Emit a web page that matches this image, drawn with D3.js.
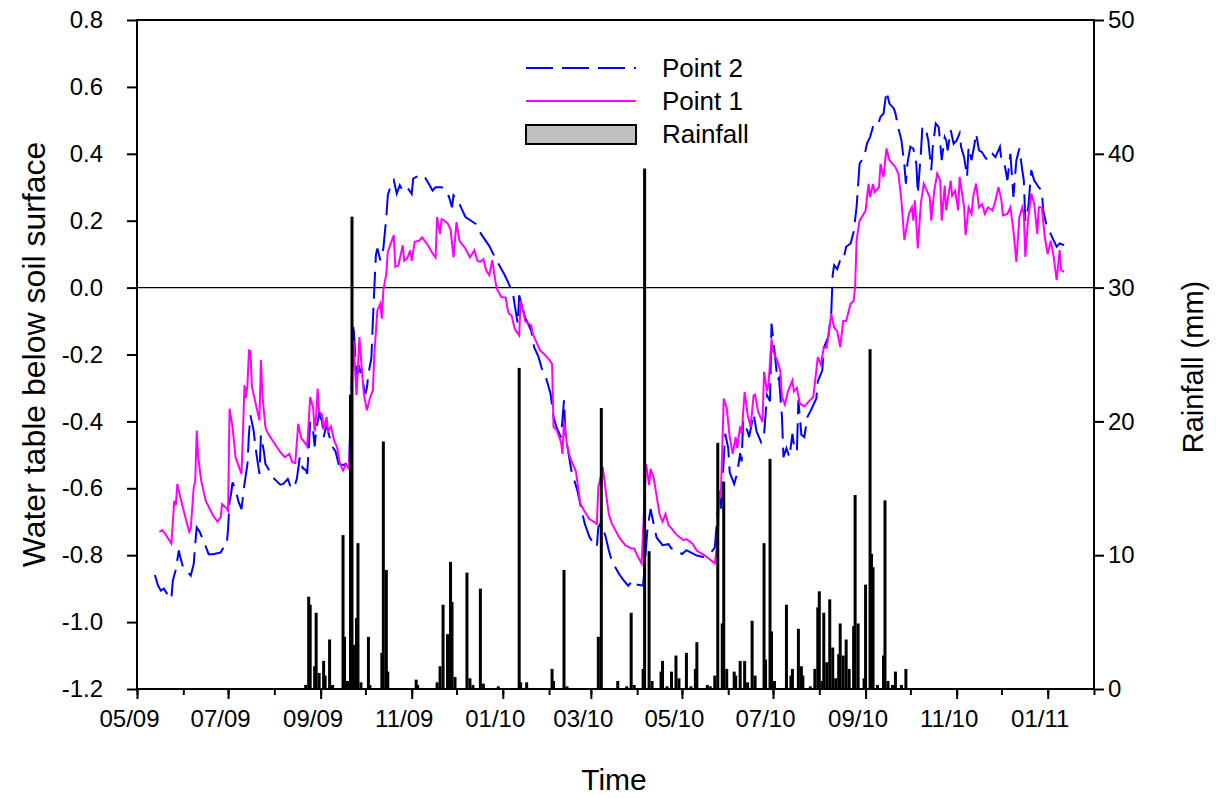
<!DOCTYPE html>
<html>
<head>
<meta charset="utf-8">
<script src="https://cdn.jsdelivr.net/npm/d3@7"></script>
<style>
  body { margin: 0; background: #fff; }
  svg { font-family: "Liberation Sans", Arial, sans-serif; }
</style>
</head>
<body>
<svg id="chart" width="1218" height="798"></svg>
<script>
// water table depth (m), Point 1 (solid magenta)
const point1 = [
  ["2009-05-16",-0.73],["2009-05-18",-0.725],["2009-05-20",-0.737],["2009-05-24",-0.765],["2009-05-26",-0.637],
  ["2009-05-27",-0.65],["2009-05-28",-0.587],["2009-05-30",-0.627],["2009-06-03",-0.697],["2009-06-05",-0.73],
  ["2009-06-06",-0.72],["2009-06-08",-0.597],["2009-06-09",-0.58],["2009-06-10",-0.427],["2009-06-11",-0.507],
  ["2009-06-13",-0.577],["2009-06-16",-0.637],["2009-06-21",-0.682],["2009-06-24",-0.70],["2009-06-26",-0.687],
  ["2009-06-27",-0.647],["2009-06-30",-0.66],["2009-07-01",-0.667],["2009-07-02",-0.362],["2009-07-04",-0.417],
  ["2009-07-06",-0.507],["2009-07-10",-0.557],["2009-07-11",-0.427],["2009-07-12",-0.292],["2009-07-13",-0.33],
  ["2009-07-14",-0.29],["2009-07-15",-0.188],["2009-07-16",-0.19],["2009-07-17",-0.297],["2009-07-20",-0.357],
  ["2009-07-22",-0.397],["2009-07-23",-0.216],["2009-07-24",-0.32],["2009-07-26",-0.417],["2009-07-27",-0.43],
  ["2009-07-30",-0.452],["2009-08-02",-0.472],["2009-08-05",-0.492],["2009-08-08",-0.507],["2009-08-11",-0.497],
  ["2009-08-13",-0.522],["2009-08-15",-0.525],["2009-08-17",-0.407],["2009-08-19",-0.45],["2009-08-22",-0.467],
  ["2009-08-23",-0.475],["2009-08-25",-0.327],["2009-08-27",-0.36],["2009-08-28",-0.43],["2009-08-29",-0.385],
  ["2009-08-30",-0.302],["2009-08-31",-0.37],["2009-09-02",-0.38],["2009-09-03",-0.425],["2009-09-05",-0.387],
  ["2009-09-06",-0.43],["2009-09-08",-0.415],["2009-09-10",-0.457],["2009-09-12",-0.477],["2009-09-14",-0.527],
  ["2009-09-16",-0.547],["2009-09-18",-0.527],["2009-09-20",-0.542],["2009-09-23",-0.158],["2009-09-25",-0.322],
  ["2009-09-27",-0.148],["2009-09-29",-0.268],["2009-09-30",-0.32],["2009-10-02",-0.367],["2009-10-04",-0.33],
  ["2009-10-06",-0.307],["2009-10-07",-0.198],["2009-10-09",-0.068],["2009-10-11",-0.048],["2009-10-12",-0.093],
  ["2009-10-13",-0.008],["2009-10-15",0.042],["2009-10-16",0.107],["2009-10-20",0.157],["2009-10-21",0.062],
  ["2009-10-23",0.065],["2009-10-26",0.127],["2009-10-27",0.08],["2009-10-29",0.087],["2009-10-31",0.112],
  ["2009-11-01",0.08],["2009-11-03",0.137],["2009-11-06",0.14],["2009-11-08",0.15],["2009-11-12",0.125],
  ["2009-11-15",0.102],["2009-11-17",0.09],["2009-11-18",0.211],["2009-11-20",0.16],["2009-11-21",0.205],
  ["2009-11-23",0.20],["2009-11-25",0.192],["2009-11-27",0.175],["2009-11-29",0.09],["2009-12-01",0.196],
  ["2009-12-03",0.14],["2009-12-05",0.128],["2009-12-07",0.117],["2009-12-10",0.09],["2009-12-13",0.112],
  ["2009-12-15",0.08],["2009-12-17",0.077],["2009-12-19",0.085],["2009-12-21",0.05],["2009-12-23",0.037],
  ["2009-12-25",0.082],["2009-12-27",0.02],["2009-12-28",-0.003],["2009-12-31",-0.028],["2010-01-03",-0.03],
  ["2010-01-04",-0.058],["2010-01-05",-0.077],["2010-01-07",-0.085],["2010-01-09",-0.123],["2010-01-12",-0.143],
  ["2010-01-13",-0.038],["2010-01-14",-0.055],["2010-01-16",-0.10],["2010-01-20",-0.113],["2010-01-21",-0.137],
  ["2010-01-23",-0.158],["2010-01-26",-0.188],["2010-01-29",-0.20],["2010-02-01",-0.215],["2010-02-03",-0.228],
  ["2010-02-04",-0.417],["2010-02-06",-0.425],["2010-02-09",-0.462],["2010-02-10",-0.497],["2010-02-11",-0.397],
  ["2010-02-13",-0.47],["2010-02-15",-0.507],["2010-02-19",-0.55],["2010-02-22",-0.647],["2010-02-25",-0.67],
  ["2010-02-28",-0.692],["2010-03-03",-0.70],["2010-03-05",-0.707],["2010-03-06",-0.597],["2010-03-09",-0.537],
  ["2010-03-11",-0.61],["2010-03-13",-0.677],["2010-03-15",-0.705],["2010-03-20",-0.747],["2010-03-24",-0.77],
  ["2010-03-28",-0.78],["2010-03-30",-0.78],["2010-04-01",-0.80],["2010-04-04",-0.825],["2010-04-07",-0.527],
  ["2010-04-09",-0.59],["2010-04-10",-0.542],["2010-04-12",-0.567],["2010-04-16",-0.677],["2010-04-18",-0.70],
  ["2010-04-20",-0.677],["2010-04-22",-0.71],["2010-04-24",-0.72],["2010-04-27",-0.737],["2010-04-29",-0.745],
  ["2010-05-02",-0.755],["2010-05-04",-0.752],["2010-05-08",-0.765],["2010-05-11",-0.787],["2010-05-16",-0.80],
  ["2010-05-19",-0.81],["2010-05-23",-0.825],["2010-05-25",-0.75],["2010-05-26",-0.607],["2010-05-27",-0.63],
  ["2010-05-29",-0.332],["2010-05-31",-0.36],["2010-06-02",-0.447],["2010-06-04",-0.497],["2010-06-06",-0.447],
  ["2010-06-07",-0.48],["2010-06-09",-0.415],["2010-06-10",-0.437],["2010-06-12",-0.312],["2010-06-14",-0.38],
  ["2010-06-16",-0.417],["2010-06-18",-0.322],["2010-06-19",-0.32],["2010-06-21",-0.37],["2010-06-24",-0.402],
  ["2010-06-25",-0.252],["2010-06-27",-0.31],["2010-06-28",-0.29],["2010-06-30",-0.153],["2010-07-01",-0.19],
  ["2010-07-04",-0.22],["2010-07-06",-0.252],["2010-07-07",-0.327],["2010-07-09",-0.35],["2010-07-11",-0.31],
  ["2010-07-14",-0.277],["2010-07-15",-0.31],["2010-07-17",-0.30],["2010-07-19",-0.347],["2010-07-22",-0.355],
  ["2010-07-25",-0.34],["2010-07-28",-0.327],["2010-07-31",-0.208],["2010-08-02",-0.23],["2010-08-04",-0.18],
  ["2010-08-06",-0.18],["2010-08-09",-0.078],["2010-08-11",-0.12],["2010-08-13",-0.13],["2010-08-15",-0.178],
  ["2010-08-17",-0.10],["2010-08-19",-0.10],["2010-08-22",-0.048],["2010-08-24",-0.04],["2010-08-25",0.002],
  ["2010-08-26",0.142],["2010-08-28",0.20],["2010-09-01",0.23],["2010-09-03",0.31],["2010-09-04",0.27],
  ["2010-09-06",0.31],["2010-09-07",0.285],["2010-09-10",0.30],["2010-09-11",0.37],["2010-09-13",0.33],
  ["2010-09-15",0.416],["2010-09-17",0.381],["2010-09-21",0.36],["2010-09-23",0.34],["2010-09-25",0.261],
  ["2010-09-27",0.142],["2010-09-30",0.22],["2010-10-02",0.24],["2010-10-03",0.20],["2010-10-04",0.261],
  ["2010-10-06",0.117],["2010-10-08",0.25],["2010-10-10",0.311],["2010-10-12",0.29],["2010-10-14",0.27],
  ["2010-10-15",0.20],["2010-10-17",0.29],["2010-10-19",0.341],["2010-10-21",0.32],["2010-10-22",0.20],
  ["2010-10-24",0.305],["2010-10-25",0.231],["2010-10-28",0.32],["2010-10-29",0.275],["2010-10-31",0.29],
  ["2010-11-02",0.231],["2010-11-03",0.331],["2010-11-06",0.24],["2010-11-07",0.157],["2010-11-09",0.24],
  ["2010-11-11",0.22],["2010-11-12",0.27],["2010-11-14",0.311],["2010-11-16",0.24],["2010-11-18",0.25],
  ["2010-11-20",0.22],["2010-11-22",0.24],["2010-11-25",0.23],["2010-11-27",0.26],["2010-11-29",0.301],
  ["2010-12-01",0.26],["2010-12-02",0.216],["2010-12-05",0.22],["2010-12-07",0.24],["2010-12-09",0.172],
  ["2010-12-11",0.077],["2010-12-13",0.21],["2010-12-15",0.24],["2010-12-16",0.22],["2010-12-17",0.092],
  ["2010-12-19",0.21],["2010-12-21",0.281],["2010-12-23",0.25],["2010-12-25",0.16],["2010-12-26",0.24],
  ["2010-12-28",0.24],["2010-12-30",0.152],["2011-01-01",0.10],["2011-01-03",0.14],["2011-01-05",0.092],
  ["2011-01-07",0.022],["2011-01-09",0.112],["2011-01-10",0.052],["2011-01-12",0.047]
];

// Point 2 (dashed blue)
const point2 = [
  ["2009-05-13",-0.859],["2009-05-15",-0.89],["2009-05-17",-0.906],["2009-05-19",-0.90],["2009-05-22",-0.921],
  ["2009-05-24",-0.931],["2009-05-25",-0.876],["2009-05-27",-0.843],["2009-05-29",-0.786],["2009-05-30",-0.806],
  ["2009-06-01",-0.838],["2009-06-04",-0.851],["2009-06-06",-0.861],["2009-06-08",-0.826],["2009-06-09",-0.767],
  ["2009-06-10",-0.717],["2009-06-12",-0.73],["2009-06-15",-0.762],["2009-06-18",-0.797],["2009-06-21",-0.797],
  ["2009-06-26",-0.792],["2009-06-28",-0.776],["2009-06-30",-0.772],["2009-07-01",-0.722],["2009-07-02",-0.64],
  ["2009-07-03",-0.617],["2009-07-04",-0.582],["2009-07-06",-0.605],["2009-07-08",-0.64],["2009-07-10",-0.662],
  ["2009-07-12",-0.587],["2009-07-14",-0.527],["2009-07-15",-0.437],["2009-07-16",-0.382],["2009-07-18",-0.424],
  ["2009-07-20",-0.497],["2009-07-22",-0.557],["2009-07-23",-0.442],["2009-07-25",-0.49],["2009-07-26",-0.527],
  ["2009-07-30",-0.557],["2009-08-01",-0.572],["2009-08-05",-0.589],["2009-08-07",-0.587],["2009-08-10",-0.572],
  ["2009-08-12",-0.597],["2009-08-14",-0.60],["2009-08-16",-0.573],["2009-08-17",-0.542],["2009-08-18",-0.507],
  ["2009-08-20",-0.54],["2009-08-22",-0.545],["2009-08-23",-0.557],["2009-08-24",-0.482],["2009-08-25",-0.402],
  ["2009-08-27",-0.43],["2009-08-28",-0.475],["2009-08-29",-0.427],["2009-08-31",-0.377],["2009-09-02",-0.40],
  ["2009-09-03",-0.447],["2009-09-05",-0.41],["2009-09-07",-0.447],["2009-09-09",-0.477],["2009-09-11",-0.49],
  ["2009-09-13",-0.527],["2009-09-16",-0.53],["2009-09-18",-0.527],["2009-09-20",-0.537],["2009-09-23",-0.108],
  ["2009-09-25",-0.268],["2009-09-27",-0.24],["2009-09-28",-0.258],["2009-10-01",-0.318],["2009-10-02",-0.30],
  ["2009-10-03",-0.258],["2009-10-05",-0.21],["2009-10-06",-0.098],["2009-10-07",0.002],["2009-10-08",0.097],
  ["2009-10-09",0.117],["2009-10-11",0.082],["2009-10-13",0.117],["2009-10-15",0.211],["2009-10-16",0.276],
  ["2009-10-18",0.306],["2009-10-20",0.321],["2009-10-22",0.281],["2009-10-24",0.306],["2009-10-26",0.29],
  ["2009-10-29",0.30],["2009-11-01",0.28],["2009-11-02",0.326],["2009-11-04",0.331],["2009-11-09",0.336],
  ["2009-11-13",0.306],["2009-11-15",0.29],["2009-11-17",0.30],["2009-11-19",0.30],["2009-11-21",0.30],
  ["2009-11-24",0.29],["2009-11-26",0.271],["2009-11-28",0.24],["2009-11-29",0.276],["2009-12-02",0.26],
  ["2009-12-04",0.24],["2009-12-07",0.211],["2009-12-12",0.196],["2009-12-14",0.19],["2009-12-16",0.17],
  ["2009-12-19",0.15],["2009-12-23",0.124],["2009-12-26",0.097],["2009-12-29",0.072],["2010-01-02",0.04],
  ["2010-01-05",0.012],["2010-01-08",-0.023],["2010-01-11",-0.108],["2010-01-12",-0.023],["2010-01-14",-0.055],
  ["2010-01-16",-0.09],["2010-01-20",-0.128],["2010-01-22",-0.178],["2010-01-25",-0.208],["2010-01-27",-0.24],
  ["2010-01-30",-0.27],["2010-02-02",-0.317],["2010-02-04",-0.388],["2010-02-06",-0.417],["2010-02-09",-0.448],
  ["2010-02-11",-0.337],["2010-02-12",-0.44],["2010-02-14",-0.495],["2010-02-16",-0.548],["2010-02-20",-0.607],
  ["2010-02-23",-0.67],["2010-02-25",-0.707],["2010-02-28",-0.745],["2010-03-03",-0.767],["2010-03-05",-0.775],
  ["2010-03-06",-0.717],["2010-03-08",-0.70],["2010-03-11",-0.747],["2010-03-13",-0.785],["2010-03-15",-0.817],
  ["2010-03-20",-0.857],["2010-03-23",-0.875],["2010-03-26",-0.891],["2010-03-29",-0.876],["2010-03-30",-0.886],
  ["2010-04-05",-0.891],["2010-04-08",-0.717],["2010-04-10",-0.662],["2010-04-12",-0.705],["2010-04-14",-0.747],
  ["2010-04-18",-0.77],["2010-04-22",-0.767],["2010-04-24",-0.78],["2010-04-28",-0.785],["2010-05-01",-0.797],
  ["2010-05-04",-0.785],["2010-05-11",-0.801],["2010-05-15",-0.805],["2010-05-18",-0.80],["2010-05-21",-0.789],
  ["2010-05-23",-0.777],["2010-05-25",-0.668],["2010-05-26",-0.627],["2010-05-27",-0.668],["2010-05-30",-0.437],
  ["2010-06-01",-0.48],["2010-06-02",-0.552],["2010-06-05",-0.587],["2010-06-07",-0.555],["2010-06-09",-0.495],
  ["2010-06-10",-0.52],["2010-06-11",-0.397],["2010-06-14",-0.43],["2010-06-15",-0.447],["2010-06-18",-0.377],
  ["2010-06-20",-0.43],["2010-06-23",-0.462],["2010-06-25",-0.44],["2010-06-27",-0.322],["2010-06-29",-0.34],
  ["2010-06-30",-0.108],["2010-07-02",-0.19],["2010-07-04",-0.277],["2010-07-05",-0.27],["2010-07-07",-0.387],
  ["2010-07-08",-0.507],["2010-07-10",-0.48],["2010-07-12",-0.507],["2010-07-14",-0.437],["2010-07-15",-0.47],
  ["2010-07-17",-0.49],["2010-07-18",-0.337],["2010-07-20",-0.44],["2010-07-22",-0.447],["2010-07-24",-0.387],
  ["2010-07-26",-0.37],["2010-07-30",-0.332],["2010-07-31",-0.28],["2010-08-03",-0.248],["2010-08-04",-0.18],
  ["2010-08-07",-0.148],["2010-08-09",-0.078],["2010-08-10",0.04],["2010-08-11",0.067],["2010-08-13",0.055],
  ["2010-08-15",0.082],["2010-08-17",0.08],["2010-08-19",0.122],["2010-08-22",0.132],["2010-08-24",0.167],
  ["2010-08-26",0.241],["2010-08-28",0.371],["2010-08-31",0.39],["2010-09-02",0.431],["2010-09-04",0.45],
  ["2010-09-06",0.481],["2010-09-09",0.481],["2010-09-11",0.511],["2010-09-13",0.52],["2010-09-15",0.586],
  ["2010-09-17",0.55],["2010-09-20",0.535],["2010-09-21",0.521],["2010-09-23",0.476],["2010-09-25",0.441],
  ["2010-09-27",0.366],["2010-09-28",0.311],["2010-09-29",0.37],["2010-10-01",0.421],["2010-10-03",0.415],
  ["2010-10-05",0.37],["2010-10-06",0.281],["2010-10-08",0.40],["2010-10-09",0.476],["2010-10-11",0.481],
  ["2010-10-13",0.44],["2010-10-15",0.351],["2010-10-16",0.42],["2010-10-18",0.491],["2010-10-20",0.48],
  ["2010-10-22",0.381],["2010-10-24",0.45],["2010-10-25",0.44],["2010-10-26",0.41],["2010-10-28",0.471],
  ["2010-10-30",0.43],["2010-11-01",0.44],["2010-11-03",0.461],["2010-11-04",0.42],["2010-11-06",0.39],
  ["2010-11-08",0.331],["2010-11-09",0.42],["2010-11-11",0.381],["2010-11-13",0.43],["2010-11-14",0.461],
  ["2010-11-16",0.41],["2010-11-18",0.405],["2010-11-20",0.39],["2010-11-22",0.38],["2010-11-25",0.40],
  ["2010-11-27",0.39],["2010-11-30",0.421],["2010-12-01",0.38],["2010-12-03",0.37],["2010-12-05",0.321],
  ["2010-12-07",0.40],["2010-12-09",0.271],["2010-12-11",0.38],["2010-12-13",0.416],["2010-12-15",0.35],
  ["2010-12-16",0.32],["2010-12-17",0.20],["2010-12-19",0.24],["2010-12-21",0.351],["2010-12-23",0.32],
  ["2010-12-26",0.30],["2010-12-28",0.29],["2010-12-29",0.231],["2010-12-31",0.19],["2011-01-02",0.171],
  ["2011-01-04",0.15],["2011-01-07",0.122],["2011-01-09",0.132],["2011-01-12",0.127]
];

// daily rainfall (mm)
const rainfall = [
  ["2009-08-22",0.3],["2009-08-24",6.9],["2009-08-25",6.3],["2009-08-28",1.7],["2009-08-29",5.7],
  ["2009-08-31",1.2],["2009-09-03",2.1],["2009-09-04",1.0],["2009-09-07",3.7],["2009-09-09",0.3],
  ["2009-09-16",11.5],["2009-09-17",3.9],["2009-09-19",0.6],["2009-09-21",22],["2009-09-22",35.3],
  ["2009-09-23",3.3],["2009-09-25",5.3],["2009-09-26",10.9],["2009-09-28",0.5],["2009-10-03",3.9],
  ["2009-10-04",0.3],["2009-10-12",2.7],["2009-10-13",18.5],["2009-10-15",8.9],["2009-10-16",1.3],
  ["2009-11-04",0.7],["2009-11-05",0.3],["2009-11-18",0.5],["2009-11-20",1.7],["2009-11-22",6.3],
  ["2009-11-25",4.1],["2009-11-27",9.5],["2009-11-28",6.5],["2009-11-30",0.9],["2009-12-08",8.7],
  ["2009-12-10",0.8],["2009-12-12",0.3],["2009-12-17",7.5],["2009-12-19",0.4],["2009-12-29",0.2],
  ["2010-01-12",24],["2010-01-13",0.5],["2010-01-17",0.5],["2010-02-03",1.5],["2010-02-04",0.6],
  ["2010-02-11",8.9],["2010-02-13",0.2],["2010-03-06",3.9],["2010-03-08",21],["2010-03-19",0.6],
  ["2010-03-25",0.2],["2010-03-28",5.7],["2010-03-30",0.3],["2010-04-05",1.5],["2010-04-06",38.9],
  ["2010-04-09",10.3],["2010-04-11",0.6],["2010-04-17",1.3],["2010-04-18",2.1],["2010-04-21",0.2],
  ["2010-04-24",1.3],["2010-04-27",2.5],["2010-04-29",0.8],["2010-05-04",2.7],["2010-05-07",0.2],
  ["2010-05-10",1.5],["2010-05-11",3.5],["2010-05-18",0.3],["2010-05-20",0.2],["2010-05-23",1.0],
  ["2010-05-25",18.4],["2010-05-28",4.9],["2010-05-29",15.5],["2010-05-31",1.5],["2010-06-05",1.3],
  ["2010-06-06",1.0],["2010-06-09",2.1],["2010-06-12",2.1],["2010-06-14",0.5],["2010-06-17",5.1],
  ["2010-06-19",1.0],["2010-06-25",10.9],["2010-06-26",2.2],["2010-06-29",17.2],["2010-06-30",4.3],
  ["2010-07-02",0.6],["2010-07-10",6.3],["2010-07-13",1.0],["2010-07-14",1.5],["2010-07-18",4.5],
  ["2010-07-20",1.7],["2010-07-21",1.0],["2010-07-26",0.2],["2010-07-29",1.5],["2010-07-31",6.1],
  ["2010-08-01",7.3],["2010-08-03",0.6],["2010-08-04",5.7],["2010-08-06",2.0],["2010-08-08",6.7],
  ["2010-08-10",3.1],["2010-08-12",0.8],["2010-08-14",2.6],["2010-08-15",4.9],["2010-08-17",2.5],
  ["2010-08-19",3.7],["2010-08-21",1.5],["2010-08-24",4.7],["2010-08-25",14.5],["2010-08-27",4.9],
  ["2010-08-31",0.8],["2010-09-01",7.8],["2010-09-04",25.4],["2010-09-05",10.1],["2010-09-06",9.1],
  ["2010-09-09",0.3],["2010-09-13",2.5],["2010-09-14",14.1],["2010-09-16",0.6],["2010-09-19",0.3],
  ["2010-09-21",1.3],["2010-09-25",0.3],["2010-09-28",1.5]
];

const depthTicks = [-1.2, -1.0, -0.8, -0.6, -0.4, -0.2, 0.0, 0.2, 0.4, 0.6, 0.8];
const rainTicks = [0, 10, 20, 30, 40, 50];
const legendItems = ["Point 2", "Point 1", "Rainfall"];

const parseDate = d3.timeParse("%Y-%m-%d");
const margin = { top: 20, right: 124, bottom: 109, left: 137 };
const width = 1218 - margin.left - margin.right;
const height = 798 - margin.top - margin.bottom;

const svg = d3.select("#chart");
const g = svg.append("g").attr("transform", `translate(${margin.left},${margin.top})`);

const x = d3.scaleTime()
    .domain([new Date(2009, 4, 1), new Date(2011, 1, 1)])
    .range([0, width]);
const yLeft = d3.scaleLinear().domain([-1.2, 0.8]).range([height, 0]);
const yRight = d3.scaleLinear().domain([0, 50]).range([height, 0]);

const toRows = arr => arr.map(d => ({ date: parseDate(d[0]), value: d[1] }));
const p1 = toRows(point1);
const p2 = toRows(point2);
const rain = toRows(rainfall);

// zero line
g.append("line")
    .attr("x1", 0).attr("x2", width)
    .attr("y1", yLeft(0)).attr("y2", yLeft(0))
    .attr("stroke", "#000").attr("stroke-width", 1.2);

const line = d3.line()
    .x(d => x(d.date))
    .y(d => yLeft(d.value));

g.append("path")
    .datum(p2)
    .attr("fill", "none")
    .attr("stroke", "#0000ff")
    .attr("stroke-width", 2)
    .attr("stroke-dasharray", "27,9")
    .attr("d", line);

g.append("path")
    .datum(p1)
    .attr("fill", "none")
    .attr("stroke", "#ff00ff")
    .attr("stroke-width", 2)
    .attr("d", line);

g.selectAll(".rain")
    .data(rain)
    .enter().append("rect")
    .attr("class", "rain")
    .attr("x", d => x(d.date) - 1.5)
    .attr("width", 3)
    .attr("y", d => yRight(d.value))
    .attr("height", d => height - yRight(d.value))
    .attr("fill", "#000");

// axes
const fontSize = 24;

const minorX = g.append("g")
    .attr("transform", `translate(0,${height})`)
    .call(d3.axisBottom(x).ticks(d3.timeMonth.every(1)).tickSize(6).tickFormat(""));
minorX.select(".domain").remove();

const majorX = g.append("g")
    .attr("transform", `translate(0,${height})`)
    .call(d3.axisBottom(x).ticks(d3.timeMonth.every(2)).tickSize(10).tickPadding(11).tickFormat(d3.timeFormat("%m/%y")));
majorX.select(".domain").remove();
majorX.selectAll("text").attr("dx", -8);

const leftAxis = g.append("g")
    .call(d3.axisLeft(yLeft).tickValues(depthTicks).tickSize(10).tickPadding(24).tickFormat(d => d.toFixed(1)));
leftAxis.select(".domain").remove();

const rightAxis = g.append("g")
    .attr("transform", `translate(${width},0)`)
    .call(d3.axisRight(yRight).tickValues(rainTicks).tickSize(10).tickPadding(4));
rightAxis.select(".domain").remove();

g.selectAll(".tick line").attr("stroke", "#000").attr("stroke-width", 2);
g.selectAll(".tick text")
    .attr("fill", "#000")
    .style("font-size", fontSize + "px")
    .style("font-family", "'Liberation Sans', Arial, sans-serif");

// frame
g.append("rect")
    .attr("width", width).attr("height", height)
    .attr("fill", "none").attr("stroke", "#000").attr("stroke-width", 2);

// axis titles
svg.append("text")
    .attr("transform", `translate(45,${margin.top + height / 2}) rotate(-90)`)
    .attr("text-anchor", "middle")
    .style("font-size", "32px")
    .text("Water table below soil surface");

svg.append("text")
    .attr("transform", `translate(1203,367) rotate(-90)`)
    .attr("text-anchor", "middle")
    .style("font-size", "29px")
    .text("Rainfall (mm)");

svg.append("text")
    .attr("x", 614).attr("y", 790)
    .attr("text-anchor", "middle")
    .style("font-size", "30px")
    .text("Time");

// legend
const legend = svg.append("g").attr("transform", "translate(526,68)");
legendItems.forEach((name, i) => {
    const row = legend.append("g").attr("transform", `translate(0,${i * 33})`);
    if (name === "Point 2") {
        row.append("line").attr("x1", 0).attr("x2", 110)
            .attr("stroke", "#0000ff").attr("stroke-width", 2).attr("stroke-dasharray", "27,9");
    } else if (name === "Point 1") {
        row.append("line").attr("x1", 0).attr("x2", 110)
            .attr("stroke", "#ff00ff").attr("stroke-width", 2);
    } else {
        row.append("rect").attr("x", 0).attr("y", -9).attr("width", 110).attr("height", 19)
            .attr("fill", "#c0c0c0").attr("stroke", "#000").attr("stroke-width", 2);
    }
    row.append("text")
        .attr("x", 136).attr("y", 0).attr("dy", "0.35em")
        .style("font-size", "26px")
        .text(name);
});
</script>
</body>
</html>
